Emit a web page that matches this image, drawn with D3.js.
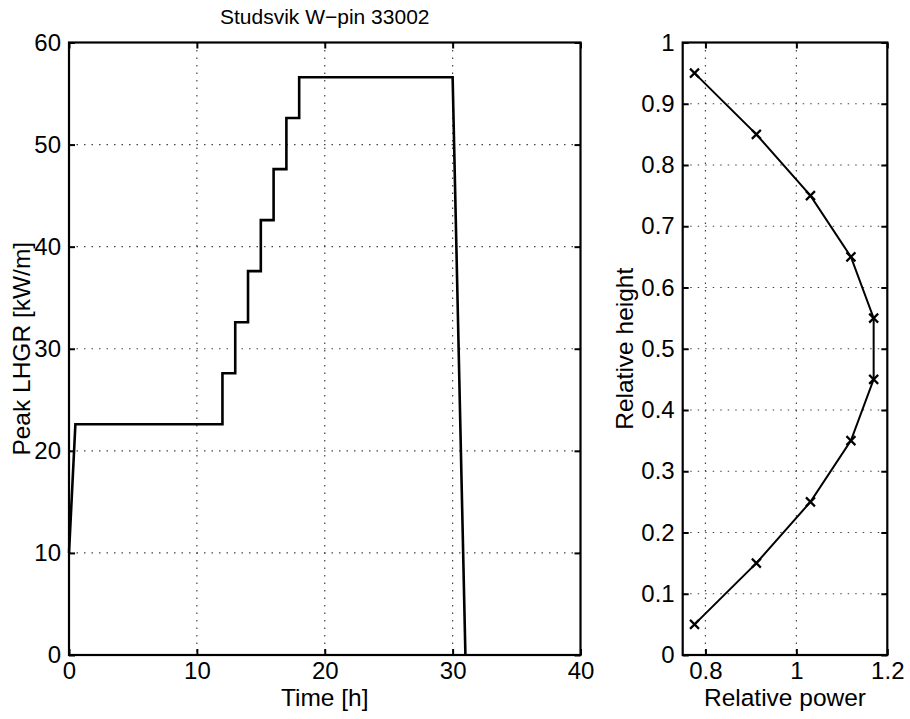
<!DOCTYPE html>
<html>
<head>
<meta charset="utf-8">
<script src="https://cdn.jsdelivr.net/npm/d3@7"></script>
<style>
  body { margin: 0; background: #fff; }
  text { font-family: "Liberation Sans", Arial, Helvetica, sans-serif; fill: #000; }
</style>
</head>
<body>
<div id="chart"></div>
<script>
// power history (left panel)
var timeH = [0, 0.5, 12, 12, 13, 13, 14, 14, 15, 15, 16, 16, 17, 17, 18, 18, 30, 31];
var lhgr  = [10, 22.6, 22.6, 27.6, 27.6, 32.6, 32.6, 37.6, 37.6, 42.6, 42.6, 47.6, 47.6, 52.6, 52.6, 56.6, 56.6, 0];
var timeTicks = [0, 10, 20, 30, 40];
var lhgrTicks = [0, 10, 20, 30, 40, 50, 60];

// axial profile (right panel)
var relHeight = [0.05, 0.15, 0.25, 0.35, 0.45, 0.55, 0.65, 0.75, 0.85, 0.95];
var relPower  = [0.776, 0.912, 1.031, 1.12, 1.17, 1.17, 1.12, 1.031, 0.912, 0.776];
var powerTicks = [0.8, 1, 1.2];
var heightTicks = [0, 0.1, 0.2, 0.3, 0.4, 0.5, 0.6, 0.7, 0.8, 0.9, 1];

var W = 910, H = 719;
var yTop = 42.5, yBot = 655;
var tickLen = 6;

var svg = d3.select("#chart")
  .append("svg")
    .attr("width", W)
    .attr("height", H);

// matlab-like labels: 1 not 1.0, 0.8 not 0.80
var fmt = function(d) { return String(d); };

function panel(opts) {
  var x = d3.scaleLinear().domain(opts.xDomain).range([opts.x0, opts.x1]);
  var y = d3.scaleLinear().domain(opts.yDomain).range([yBot, yTop]);
  var g = svg.append("g");

  // dotted grid
  g.selectAll(".gx").data(opts.xTicks.filter(function(d) { return d > opts.xDomain[0] && d < opts.xDomain[1]; }))
    .enter().append("line")
      .attr("x1", function(d) { return x(d); }).attr("x2", function(d) { return x(d); })
      .attr("y1", yTop).attr("y2", yBot)
      .attr("stroke", "#444").attr("stroke-width", 1.2).attr("stroke-dasharray", "1.5,6");
  g.selectAll(".gy").data(opts.yTicks.filter(function(d) { return d > opts.yDomain[0] && d < opts.yDomain[1]; }))
    .enter().append("line")
      .attr("y1", function(d) { return y(d); }).attr("y2", function(d) { return y(d); })
      .attr("x1", opts.x0).attr("x2", opts.x1)
      .attr("stroke", "#444").attr("stroke-width", 1.2).attr("stroke-dasharray", "1.5,6");

  // axes, ticks inside on all four sides
  var ax = g.append("g").attr("transform", "translate(0," + yBot + ")")
    .call(d3.axisBottom(x).tickValues(opts.xTicks).tickSize(-tickLen).tickPadding(tickLen + 1).tickFormat(fmt));
  var ax2 = g.append("g").attr("transform", "translate(0," + yTop + ")")
    .call(d3.axisTop(x).tickValues(opts.xTicks).tickSize(-tickLen).tickFormat(""));
  var ay = g.append("g").attr("transform", "translate(" + opts.x0 + ",0)")
    .call(d3.axisLeft(y).tickValues(opts.yTicks).tickSize(-tickLen).tickPadding(tickLen + 2).tickFormat(fmt));
  var ay2 = g.append("g").attr("transform", "translate(" + opts.x1 + ",0)")
    .call(d3.axisRight(y).tickValues(opts.yTicks).tickSize(-tickLen).tickFormat(""));
  [ax, ax2, ay, ay2].forEach(function(a) {
    a.select(".domain").remove();
    a.selectAll("line").attr("stroke", "#000").attr("stroke-width", 2);
    a.selectAll("text").style("font-size", "24px").attr("fill", "#000");
  });
  ax.selectAll("text").attr("dy", "0.72em");

  g.append("rect")
    .attr("x", opts.x0).attr("y", yTop)
    .attr("width", opts.x1 - opts.x0).attr("height", yBot - yTop)
    .attr("fill", "none").attr("stroke", "#000").attr("stroke-width", 2.2);

  // labels
  g.append("text")
    .attr("x", (opts.x0 + opts.x1) / 2).attr("y", 706)
    .attr("text-anchor", "middle").style("font-size", "24.5px")
    .text(opts.xLabel);
  g.append("text")
    .attr("transform", "translate(" + opts.yLabelX + "," + ((yTop + yBot) / 2) + ") rotate(-90)")
    .attr("text-anchor", "middle").style("font-size", "24.5px")
    .text(opts.yLabel);

  return {x: x, y: y, g: g};
}

// left: peak LHGR vs time
var left = panel({
  x0: 69, x1: 580.5,
  xDomain: [0, 40], yDomain: [0, 60],
  xTicks: timeTicks, yTicks: lhgrTicks,
  xLabel: "Time [h]", yLabel: "Peak LHGR [kW/m]", yLabelX: 30
});

left.g.append("path")
  .datum(d3.range(timeH.length))
  .attr("fill", "none").attr("stroke", "#000").attr("stroke-width", 2.6)
  .attr("d", d3.line()
    .x(function(i) { return left.x(timeH[i]); })
    .y(function(i) { return left.y(lhgr[i]); }));

svg.append("text")
  .attr("x", (69 + 580.5) / 2).attr("y", 24)
  .attr("text-anchor", "middle").style("font-size", "21px")
  .text("Studsvik W\u2212pin 33002");

// right: axial power profile
var right = panel({
  x0: 682.7, x1: 887.3,
  xDomain: [0.75, 1.2], yDomain: [0, 1],
  xTicks: powerTicks, yTicks: heightTicks,
  xLabel: "Relative power", yLabel: "Relative height", yLabelX: 633
});

right.g.append("path")
  .datum(d3.range(relHeight.length))
  .attr("fill", "none").attr("stroke", "#000").attr("stroke-width", 2)
  .attr("d", d3.line()
    .x(function(i) { return right.x(relPower[i]); })
    .y(function(i) { return right.y(relHeight[i]); }));

var m = 4.5;
right.g.selectAll(".mk").data(d3.range(relHeight.length))
  .enter().append("path")
    .attr("fill", "none").attr("stroke", "#000").attr("stroke-width", 2.2)
    .attr("d", function(i) {
      var cx = right.x(relPower[i]), cy = right.y(relHeight[i]);
      return "M" + (cx - m) + "," + (cy - m) + "L" + (cx + m) + "," + (cy + m) +
             "M" + (cx - m) + "," + (cy + m) + "L" + (cx + m) + "," + (cy - m);
    });
</script>
</body>
</html>
